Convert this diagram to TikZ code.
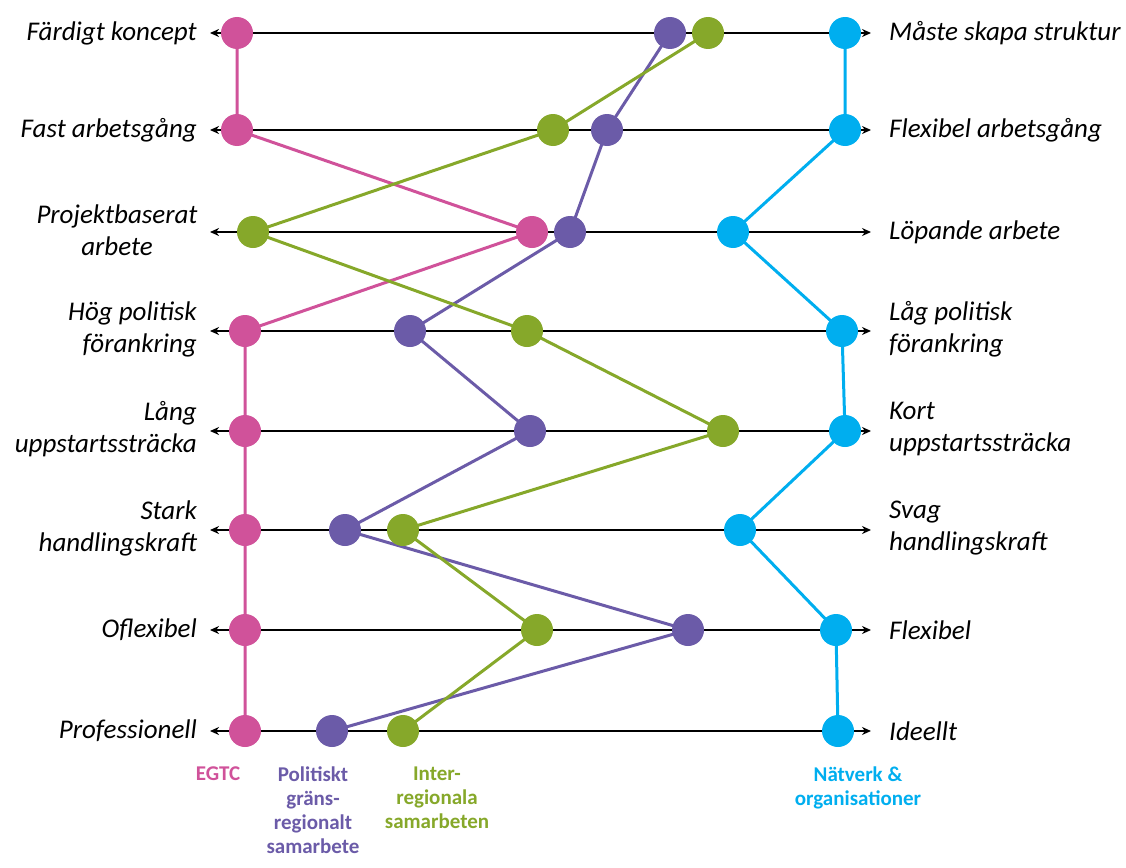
\documentclass[tikz,border=0pt]{standalone}
\usepackage{fontspec}
\setmainfont{Carlito}
\usetikzlibrary{arrows.meta}
\definecolor{cpink}{HTML}{D0529A}
\definecolor{cpurple}{HTML}{6B5BA8}
\definecolor{cgreen}{HTML}{86A82A}
\definecolor{cblue}{HTML}{00AEEF}
\tikzset{
  dot/.style={circle,fill=#1,minimum size=32pt,inner sep=0pt},
  axisline/.style={line width=2pt,black,{Stealth[length=9pt,width=8pt]}-{Stealth[length=9pt,width=8pt]}},
  series/.style={line width=3pt,#1},
  lbl/.style={font=\fontsize{27}{32}\selectfont\itshape,inner sep=0pt},
  leftlbl/.style={lbl,anchor=east,align=right},
  rightlbl/.style={lbl,anchor=west,align=left},
  legend/.style={font=\fontsize{21}{24}\selectfont\bfseries,align=center,anchor=north,inner sep=0pt}
}
\begin{document}
\begin{tikzpicture}[x=1pt,y=-1pt]
\useasboundingbox (0,0) rectangle (1126,867);
% axes
\foreach \i/\y in {1/33,2/130,3/232,4/331,5/431,6/530,7/630,8/731}{
  \coordinate (L\i) at (210,\y);
  \coordinate (R\i) at (871,\y);
  \draw[axisline] (L\i) -- (R\i);
}
% labels
\node[leftlbl] (tl1) at (197,33) {Färdigt koncept};
\node[leftlbl] (tl2) at (197,130) {Fast arbetsgång};
\node[lbl,align=center] (tl3) at (117,230) {Projektbaserat\\arbete};
\node[leftlbl] (tl4) at (197,329) {Hög politisk\\förankring};
\node[leftlbl] (tl5) at (197,429) {Lång\\uppstartssträcka};
\node[leftlbl] (tl6) at (197,528) {Stark\\handlingskraft};
\node[leftlbl] (tl7) at (197,630) {Oflexibel};
\node[leftlbl] (tl8) at (197,731) {Professionell};
\node[rightlbl] (tr1) at (889,33) {Måste skapa struktur};
\node[rightlbl] (tr2) at (889,130) {Flexibel arbetsgång};
\node[rightlbl] (tr3) at (889,232) {Löpande arbete};
\node[rightlbl] (tr4) at (889,329) {Låg politisk\\förankring};
\node[rightlbl] (tr5) at (889,429) {Kort\\uppstartssträcka};
\node[rightlbl] (tr6) at (889,528) {Svag\\handlingskraft};
\node[rightlbl] (tr7) at (889,630) {Flexibel};
\node[rightlbl] (tr8) at (889,731) {Ideellt};
% dot coordinates
\foreach \i/\x/\y in {1/237/33,2/237/130,3/532/232,4/245/331,5/245/431,6/245/530,7/245/630,8/245/731}{\coordinate (p\i) at (\x,\y);}
\foreach \i/\x/\y in {1/670/33,2/607/130,3/570/232,4/410/331,5/530/431,6/345/530,7/688/630,8/332/731}{\coordinate (u\i) at (\x,\y);}
\foreach \i/\x/\y in {1/708/33,2/553/130,3/253/232,4/527/331,5/723/431,6/403/530,7/537/630,8/403/731}{\coordinate (g\i) at (\x,\y);}
\foreach \i/\x/\y in {1/845/33,2/845/130,3/733/232,4/842/331,5/845/431,6/740/530,7/836/630,8/838/731}{\coordinate (b\i) at (\x,\y);}
% series lines
\draw[series=cpink] (p1)--(p2)--(p3)--(p4)--(p5)--(p6)--(p7)--(p8);
\draw[series=cpurple] (u1)--(u2)--(u3)--(u4)--(u5)--(u6)--(u7)--(u8);
\draw[series=cgreen] (g1)--(g2)--(g3)--(g4)--(g5)--(g6)--(g7)--(g8);
\draw[series=cblue] (b1)--(b2)--(b3)--(b4)--(b5)--(b6)--(b7)--(b8);
% dots
\foreach \i in {1,...,8}{
  \node[dot=cpink] (dp\i) at (p\i) {};
  \node[dot=cpurple] (du\i) at (u\i) {};
  \node[dot=cgreen] (dg\i) at (g\i) {};
  \node[dot=cblue] (db\i) at (b\i) {};
}
% legend
\node[legend,text=cpink] (lp) at (218,767) {EGTC};
\node[legend,text=cpurple] (lu) at (313,767) {Politiskt\\gräns-\\regionalt\\samarbete};
\node[legend,text=cgreen] (lg) at (437,767) {Inter-\\regionala\\samarbeten};
\node[legend,text=cblue] (lb) at (858,767) {Nätverk \&\\organisationer};
\end{tikzpicture}
\end{document}
